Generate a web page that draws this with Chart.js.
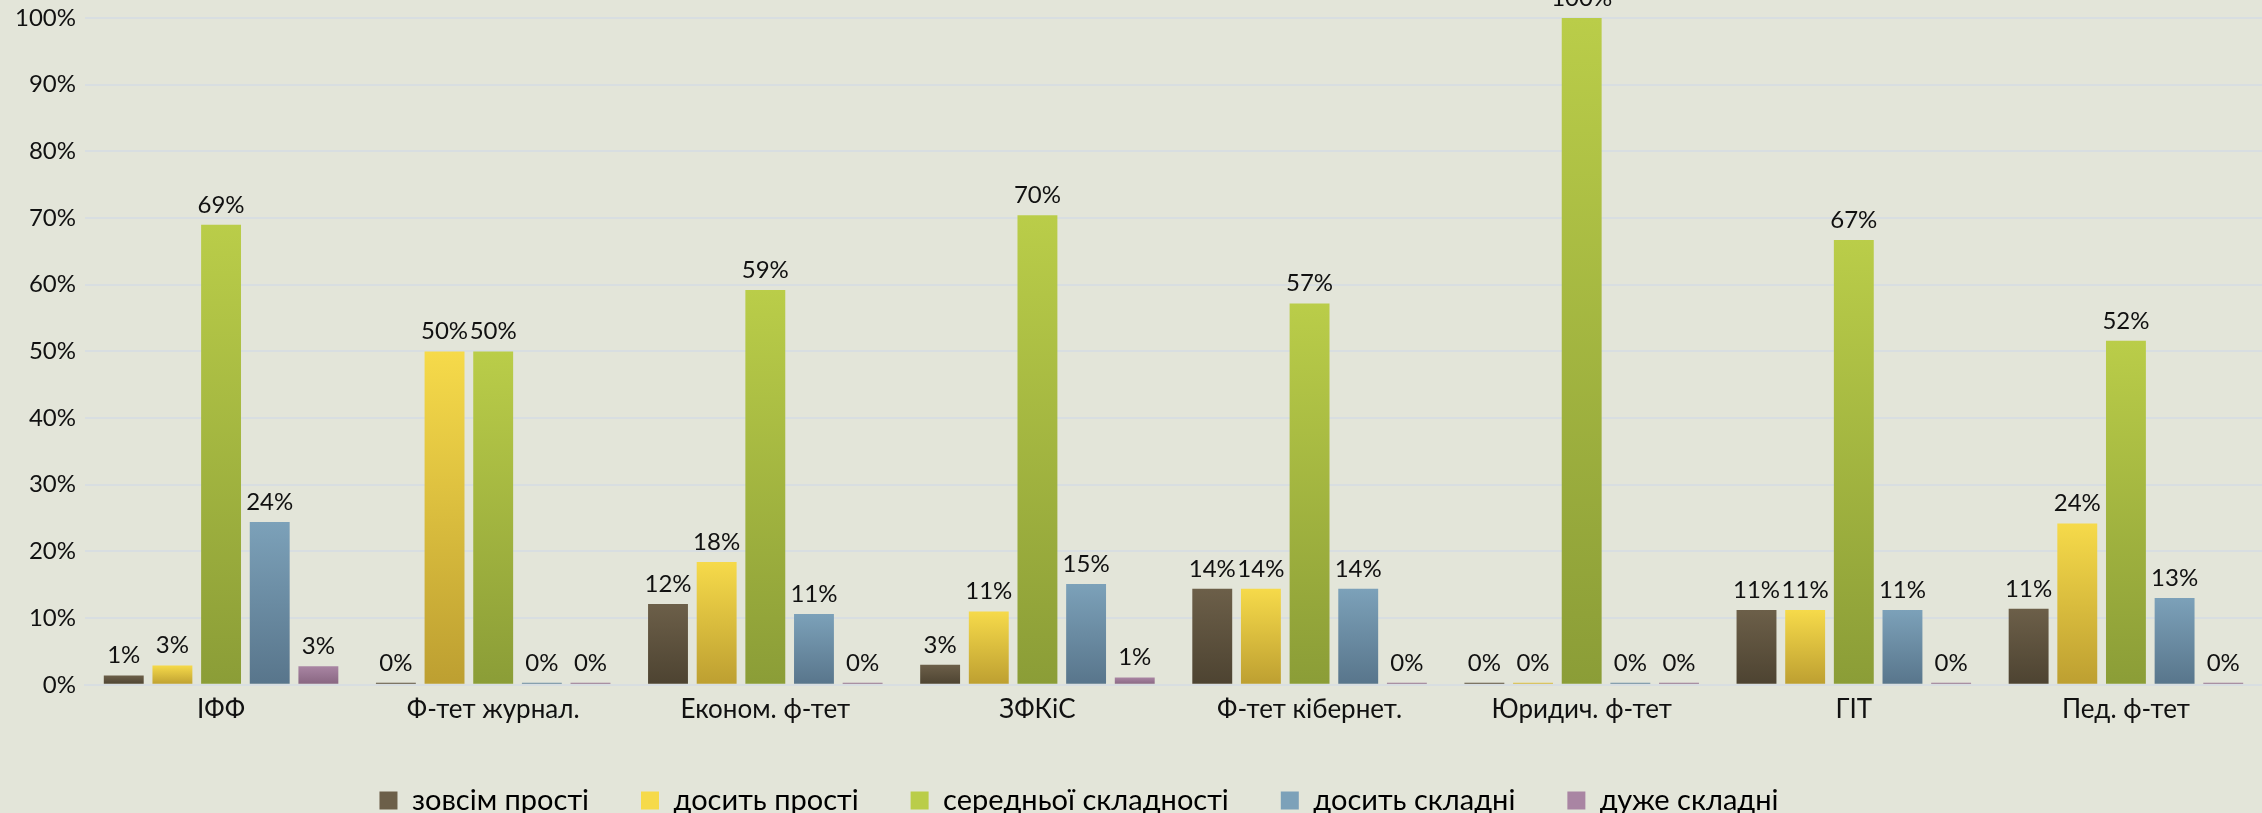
<!DOCTYPE html>
<html>
<head>
<meta charset="utf-8">
<script src="https://cdn.jsdelivr.net/npm/chart.js@4"></script>
<style>
  html, body { margin: 0; padding: 0; background: #e3e5d9; overflow: hidden; }
  #wrap { width: 2262px; height: 813px; }
</style>
</head>
<body>
<div id="wrap"><canvas id="chart"></canvas></div>
<script>
// faculties
const faculties = ['ІФФ', 'Ф-тет журнал.', 'Економ. ф-тет', 'ЗФКіС', 'Ф-тет кібернет.', 'Юридич. ф-тет', 'ГІТ', 'Пед. ф-тет']

// series, % of answers
const veryEasy  = [1.4, 0, 12.1, 3.0, 14.4, 0, 11.2, 11.4]
const fairlyEasy = [2.9, 50, 18.4, 11.0, 14.4, 0, 11.2, 24.2]
const medium    = [69.0, 50, 59.2, 70.4, 57.2, 100, 66.7, 51.6]
const fairlyHard = [24.4, 0, 10.6, 15.1, 14.4, 0, 11.2, 13.0]
const veryHard  = [2.8, 0, 0, 1.1, 0, 0, 0, 0]

const seriesNames = ['зовсім прості', 'досить прості', 'середньої складності', 'досить складні', 'дуже складні']

// y axis
const yTicks = [0, 10, 20, 30, 40, 50, 60, 70, 80, 90, 100]

// top / bottom colour of each bar gradient
const palette = [
    ['#6c5f49', '#4d4331'],
    ['#f6da4a', '#bd9f31'],
    ['#bacd49', '#8b9d37'],
    ['#7ca1b9', '#58758b'],
    ['#a985a3', '#876580']
]

function barFill(top, bottom) {
    return function (c) {
        if (c.type !== 'data') return top
        const chart = c.chart
        const y = chart.scales.y
        if (!y || !chart.chartArea) return top
        const y0 = y.getPixelForValue(0)
        let y1 = y.getPixelForValue(c.raw)
        if (y0 - y1 < 3) y1 = y0 - 3
        const g = chart.ctx.createLinearGradient(0, y1, 0, y0)
        g.addColorStop(0, top)
        g.addColorStop(1, bottom)
        return g
    }
}

// value labels above bars
const valueLabels = {
    id: 'valueLabels',
    afterDatasetsDraw(chart) {
        const ctx = chart.ctx
        ctx.save()
        ctx.font = '24px Lato'
        ctx.fillStyle = '#111111'
        ctx.textAlign = 'center'
        ctx.textBaseline = 'alphabetic'
        chart.data.datasets.forEach((ds, i) => {
            chart.getDatasetMeta(i).data.forEach((bar, j) => {
                ctx.fillText(Math.round(ds.data[j]) + '%', bar.x, bar.y - 12)
            })
        })
        ctx.restore()
    }
}

// legend sits a bit left of centre in the original
const legendShift = {
    id: 'legendShift',
    afterLayout(chart) {
        chart.legend.left -= 52
        chart.legend.right -= 52
    }
}

const allSeries = [veryEasy, fairlyEasy, medium, fairlyHard, veryHard]

new Chart(document.getElementById('chart'), {
    type: 'bar',
    data: {
        labels: faculties,
        datasets: allSeries.map((d, i) => ({
            label: seriesNames[i],
            data: d,
            backgroundColor: barFill(palette[i][0], palette[i][1]),
            borderWidth: 0,
            minBarLength: 2,
            categoryPercentage: 0.894,
            barPercentage: 0.82
        }))
    },
    options: {
        responsive: true,
        maintainAspectRatio: false,
        animation: false,
        layout: { padding: { top: 18, right: 0, left: 0, bottom: -12 } },
        plugins: {
            tooltip: { enabled: false },
            legend: {
                position: 'bottom',
                labels: {
                    font: { family: 'Lato', size: 29 },
                    color: '#111111',
                    boxWidth: 18,
                    boxHeight: 18,
                    padding: 52,
                    generateLabels(chart) {
                        return chart.data.datasets.map((ds, i) => ({
                            text: ds.label,
                            fillStyle: palette[i][0],
                            strokeStyle: palette[i][0],
                            lineWidth: 0,
                            datasetIndex: i
                        }))
                    }
                }
            }
        },
        scales: {
            x: {
                grid: { display: false, drawTicks: false },
                border: { display: true, color: '#d8dee1', width: 2 },
                ticks: { font: { family: 'Lato', size: 26 }, color: '#111111', padding: 9 }
            },
            y: {
                min: 0,
                max: 100,
                afterFit(scale) {
                    scale.width = 85
                    scale.paddingTop = 0
                },
                afterBuildTicks(scale) { scale.ticks = yTicks.map(v => ({ value: v })) },
                grid: { color: '#d8dee1', lineWidth: 2, drawTicks: false },
                border: { display: false },
                ticks: {
                    font: { family: 'Lato', size: 24 },
                    color: '#111111',
                    padding: 9,
                    callback: v => v + '%'
                }
            }
        }
    },
    plugins: [valueLabels, legendShift]
})
</script>
</body>
</html>
